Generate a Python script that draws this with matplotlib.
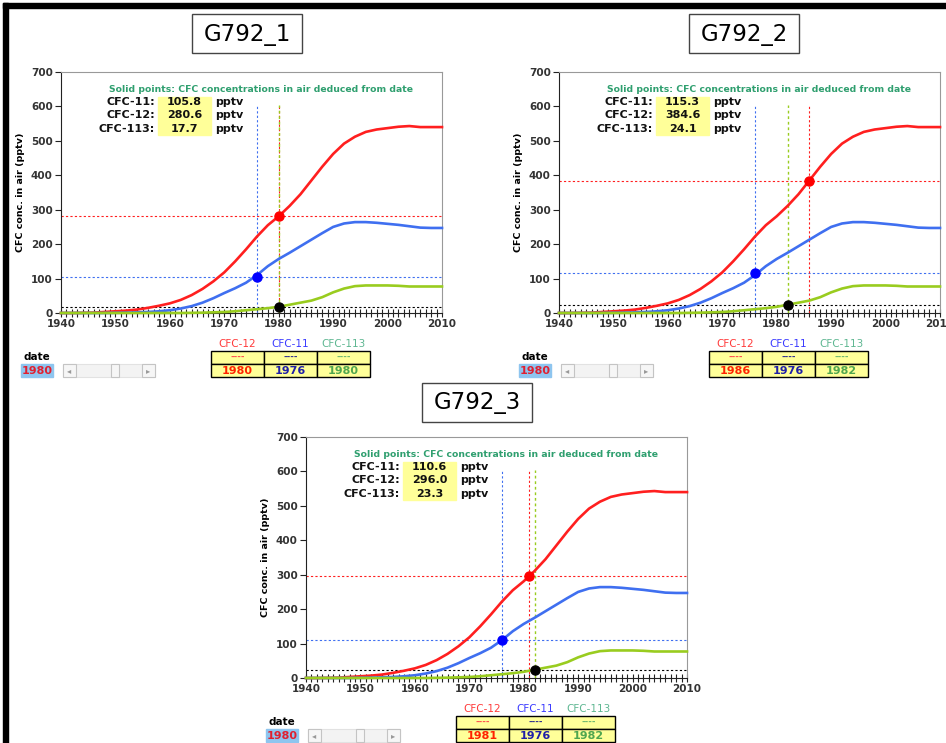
import matplotlib.pyplot as plt
from matplotlib.patches import Rectangle

W, H = 946, 743

# atmospheric history (pptv)
years = [1940, 1942, 1944, 1946, 1948, 1950, 1952, 1954, 1956, 1958,
         1960, 1962, 1964, 1966, 1968, 1970, 1972, 1974, 1976, 1978,
         1980, 1982, 1984, 1986, 1988, 1990, 1992, 1994, 1996, 1998,
         2000, 2002, 2004, 2006, 2008, 2010]
cfc12 = [0, 0, 0.5, 1, 3, 5, 7, 10, 15, 21,
         28, 38, 52, 70, 92, 118, 150, 185, 222, 255,
         281, 311, 345, 385, 425, 462, 492, 512, 526, 533,
         537, 541, 543, 540, 540, 540]
cfc11 = [0, 0, 0, 0, 0, 0.5, 1, 2, 3, 5,
         8, 13, 20, 30, 43, 58, 72, 88, 110, 136,
         157, 175, 194, 213, 232, 250, 260, 264, 264, 262,
         259, 256, 252, 248, 247, 247]
cfc113 = [0, 0, 0, 0, 0, 0, 0, 0, 0, 0,
          0, 0, 0.5, 1, 2, 3, 5, 8, 11, 14,
          18, 24, 30, 36, 46, 60, 71, 78, 80, 80,
          80, 79, 77, 77, 77, 77]

# one entry per sample panel
panel_names = ['G792_1', 'G792_2', 'G792_3']
date_12 = [1980, 1986, 1981]
date_11 = [1976, 1976, 1976]
date_113 = [1980, 1982, 1982]
conc_11 = [105.8, 115.3, 110.6]
conc_12 = [280.6, 384.6, 296.0]
conc_113 = [17.7, 24.1, 23.3]
slider_date = [1980, 1980, 1980]

# layout in pixels: axes left, axes top, title box centre x, y
panel_px = [(61, 72, 247, 33), (559, 72, 744, 33), (306, 437, 477, 402)]
AX_W, AX_H = 381, 241

RED = '#ff1f1f'
BLUE = '#3f6ff0'
GREEN = '#99cc1f'
FONT = 'DejaVu Sans'

fig = plt.figure(figsize=(W / 100, H / 100), dpi=100)

# overlay in pixel coordinates for the spreadsheet decorations
ov = fig.add_axes([0, 0, 1, 1])
ov.set_xlim(0, W)
ov.set_ylim(H, 0)
ov.axis('off')
ov.add_patch(Rectangle((3, 3), 5, H, color='black'))
ov.add_patch(Rectangle((3, 3), W, 5, color='black'))


def draw_panel(i):
    left, top, tx, ty = panel_px[i]
    bottom = top + AX_H

    # title box
    ov.add_patch(Rectangle((tx - 55, ty - 19), 110, 39, facecolor='white',
                           edgecolor='#444444', lw=1))
    ov.text(tx, ty + 1, panel_names[i], ha='center', va='center',
            fontsize=16.5, family=FONT)

    ax = fig.add_axes([left / W, 1 - bottom / H, AX_W / W, AX_H / H])
    ax.plot(years, cfc12, color=RED, lw=1.9, clip_on=False, zorder=3)
    ax.plot(years, cfc11, color=BLUE, lw=1.9, clip_on=False, zorder=3)
    ax.plot(years, cfc113, color=GREEN, lw=1.9, clip_on=False, zorder=3)

    dash = (0, (2, 2))
    ax.axhline(conc_12[i], color=RED, ls=dash, lw=0.8)
    ax.axhline(conc_11[i], color=BLUE, ls=dash, lw=0.8)
    ax.axhline(conc_113[i], color='black', ls=dash, lw=0.8)
    ax.vlines(date_12[i], 0, 605, color=RED, ls=dash, lw=0.8)
    ax.vlines(date_11[i], 0, 605, color=BLUE, ls=dash, lw=0.8)
    ax.vlines(date_113[i], 0, 605, color=GREEN, ls=dash, lw=1.0, zorder=2.5)

    ax.plot(date_12[i], conc_12[i], 'o', color='#ff0000', ms=6.5, zorder=5)
    ax.plot(date_11[i], conc_11[i], 'o', color='#0000ff', ms=6.5, zorder=5)
    ax.plot(date_113[i], conc_113[i], 'o', color='black', ms=6.5, zorder=5)

    ax.text(1976.7, 648, 'Solid points: CFC concentrations in air deduced from date',
            ha='center', va='center', color='#2f9f6f', fontsize=6.7,
            fontweight='bold', family=FONT)
    ax.add_patch(Rectangle((1957.8, 517), 9.8, 111, color='#ffff99', zorder=1))
    labels = ['CFC-11:', 'CFC-12:', 'CFC-113:']
    values = [conc_11[i], conc_12[i], conc_113[i]]
    for lab, val, yy in zip(labels, values, [613, 574, 535]):
        ax.text(1957.3, yy, lab, ha='right', va='center', fontsize=8,
                fontweight='bold', family=FONT, color='#111111')
        ax.text(1962.7, yy, '%.1f' % val, ha='center', va='center', fontsize=8,
                fontweight='bold', family=FONT, color='#111111')
        ax.text(1968.3, yy, 'pptv', ha='left', va='center', fontsize=8,
                fontweight='bold', family=FONT, color='#111111')

    ax.set_xlim(1940, 2010)
    ax.set_ylim(0, 700)
    ax.set_xticks(range(1940, 2011, 10))
    ax.set_xticks(range(1940, 2011, 1), minor=True)
    ax.set_yticks(range(0, 701, 100))
    ax.tick_params(axis='x', which='both', direction='inout', length=6,
                   width=0.8, colors='#222222', pad=1)
    ax.tick_params(axis='y', direction='out', length=4, width=0.8,
                   colors='#222222', pad=2)
    for lab in ax.get_xticklabels() + ax.get_yticklabels():
        lab.set_fontweight('bold')
        lab.set_fontsize(7.5)
        lab.set_family(FONT)
        lab.set_color('#333333')
    ax.set_ylabel('CFC conc. in air (pptv)', fontsize=6.8, fontweight='bold',
                  family=FONT, labelpad=4)
    ax.spines['top'].set_color('#999999')
    ax.spines['right'].set_color('#999999')
    ax.spines['left'].set_color('#222222')
    ax.spines['bottom'].set_color('#222222')

    # legend table below the chart
    heads = ['CFC-12', 'CFC-11', 'CFC-113']
    head_cols = ['#ff3b3b', '#3b3bff', '#5fb792']
    dash_cols = ['#ff5050', '#303090', '#70b870']
    year_cols = ['#ff2200', '#1f1fa8', '#4fa64f']
    table_years = [date_12[i], date_11[i], date_113[i]]
    x0 = left + 150
    for k in range(3):
        cx = x0 + 53 * k
        ov.text(cx + 26.5, bottom + 31, heads[k], ha='center', va='center',
                color=head_cols[k], fontsize=7.5, family=FONT)
        ov.add_patch(Rectangle((cx, bottom + 38), 53, 13, facecolor='#ffff99',
                               edgecolor='black', lw=1))
        ov.add_patch(Rectangle((cx, bottom + 51), 53, 13, facecolor='#ffff99',
                               edgecolor='black', lw=1))
        ov.text(cx + 26.5, bottom + 44, '----', ha='center', va='center',
                color=dash_cols[k], fontsize=6, family=FONT, fontweight='bold')
        ov.text(cx + 26.5, bottom + 58, str(table_years[k]), ha='center',
                va='center', color=year_cols[k], fontsize=8, family=FONT,
                fontweight='bold')

    # date field with its scroll bar
    ov.text(left - 24, bottom + 44, 'date', ha='center', va='center',
            fontsize=7.5, fontweight='bold', family=FONT)
    ov.add_patch(Rectangle((left - 40, bottom + 51), 32, 13, color='#8ec5ef'))
    ov.text(left - 24, bottom + 58, str(slider_date[i]), ha='center', va='center',
            fontsize=8, fontweight='bold', family=FONT, color='#e02030')
    ov.add_patch(Rectangle((left + 2, bottom + 51), 92, 13, facecolor='#f3f3f3',
                           edgecolor='#e2e2e2', lw=0.8))
    ov.add_patch(Rectangle((left + 2, bottom + 51), 13, 13, facecolor='#f6f6f6',
                           edgecolor='#c4c4c4', lw=0.8))
    ov.add_patch(Rectangle((left + 81, bottom + 51), 13, 13, facecolor='#f6f6f6',
                           edgecolor='#c4c4c4', lw=0.8))
    ov.add_patch(Rectangle((left + 50, bottom + 51), 8, 13, facecolor='#f6f6f6',
                           edgecolor='#c4c4c4', lw=0.8))
    ov.text(left + 8.5, bottom + 58, '\u25c2', ha='center', va='center',
            fontsize=6, color='#999999', family=FONT)
    ov.text(left + 87.5, bottom + 58, '\u25b8', ha='center', va='center',
            fontsize=6, color='#999999', family=FONT)


for i in range(3):
    draw_panel(i)

fig.savefig('out.png', dpi=100)
